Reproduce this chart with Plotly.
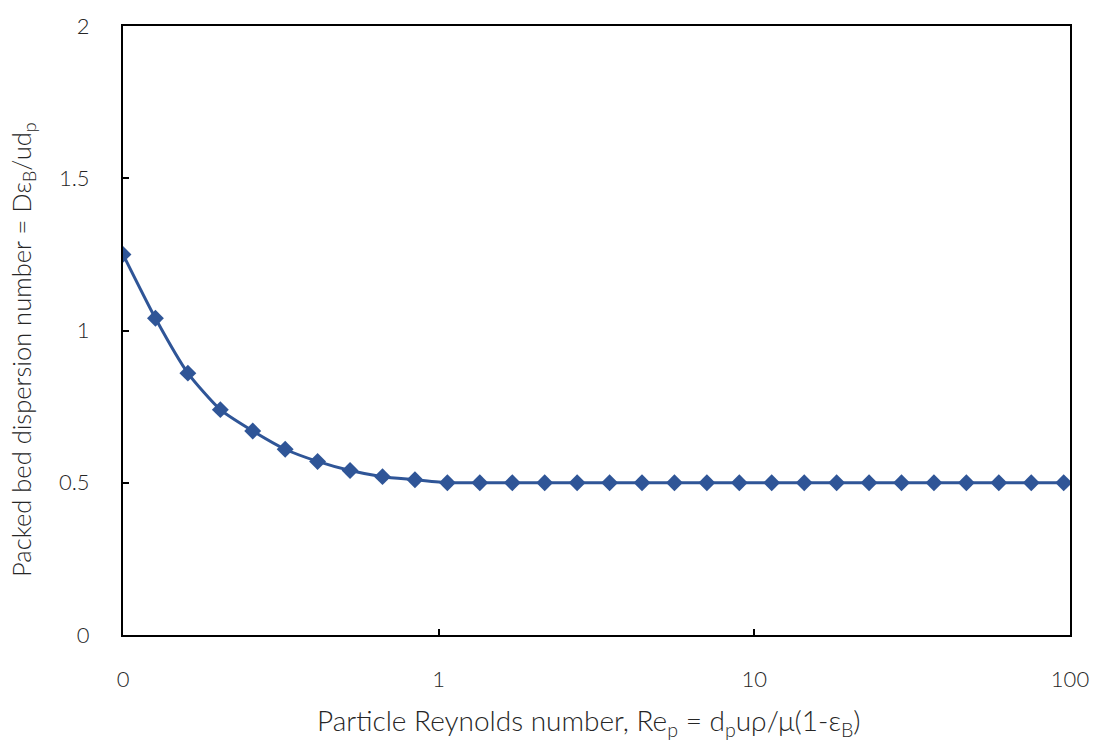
import plotly.graph_objects as go

# Data
re_p = [0.1, 0.1267, 0.1605, 0.2034, 0.2576, 0.3264, 0.4135, 0.524, 0.6638, 0.8411,
        1.0656, 1.35, 1.711, 2.167, 2.746, 3.479, 4.407, 5.584, 7.074, 8.962,
        11.35, 14.39, 18.23, 23.09, 29.26, 37.07, 46.96, 59.5, 75.38, 95.5]
dispersion = [1.25, 1.04, 0.86, 0.74, 0.67, 0.61, 0.57, 0.54, 0.52, 0.51,
              0.5, 0.5, 0.5, 0.5, 0.5, 0.5, 0.5, 0.5, 0.5, 0.5,
              0.5, 0.5, 0.5, 0.5, 0.5, 0.5, 0.5, 0.5, 0.5, 0.5]
x_tickvals = [0.1, 1, 10, 100]
x_ticktext = ["0", "1", "10", "100"]
y_tickvals = [0, 0.5, 1, 1.5, 2]
y_ticktext = ["0", "0.5", "1", "1.5", "2"]
x_title = "Particle Reynolds number, Re<sub>p</sub> = d<sub>p</sub>uρ/μ(1-ε<sub>B</sub>)"
y_title = "Packed bed dispersion number = Dε<sub>B</sub>/ud<sub>p</sub>"

color = "#2F5597"
font_family = "Lato"
text_color = "#262626"

fig = go.Figure()
fig.add_trace(go.Scatter(
    x=re_p, y=dispersion, mode="lines+markers",
    line=dict(color=color, width=3, shape="spline", smoothing=0.6),
    marker=dict(symbol="diamond", size=13, color=color),
    showlegend=False,
))

fig.update_layout(
    width=1101, height=744,
    margin=dict(l=123, r=28, t=24, b=109),
    paper_bgcolor="white", plot_bgcolor="white",
    font=dict(family=font_family, size=22, color=text_color, weight=300),
    xaxis=dict(
        type="log", range=[-1, 2],
        tickvals=x_tickvals, ticktext=x_ticktext,
        ticks="inside", ticklen=6, tickwidth=2, tickcolor="black",
        showline=True, linecolor="black", linewidth=2, mirror=True,
        showgrid=False, zeroline=False,
        ticklabelstandoff=24,
        tickfont=dict(size=22),
    ),
    yaxis=dict(
        range=[0, 2],
        tickvals=y_tickvals, ticktext=y_ticktext,
        ticks="inside", ticklen=6, tickwidth=2, tickcolor="black",
        showline=True, linecolor="black", linewidth=2, mirror=True,
        showgrid=False, zeroline=False,
        ticklabelstandoff=27,
        tickfont=dict(size=22),
    ),
    annotations=[
        dict(text=x_title, xref="paper", yref="paper", x=0.4916, y=-0.1424,
             xanchor="center", yanchor="middle", showarrow=False,
             font=dict(size=28, family=font_family, color=text_color, weight=300)),
        dict(text=y_title, xref="paper", yref="paper", x=-0.1063, y=0.4686,
             xanchor="center", yanchor="middle", showarrow=False, textangle=-90,
             font=dict(size=25.5, family=font_family, color=text_color, weight=300)),
    ],
)

fig.write_html("out.html")
